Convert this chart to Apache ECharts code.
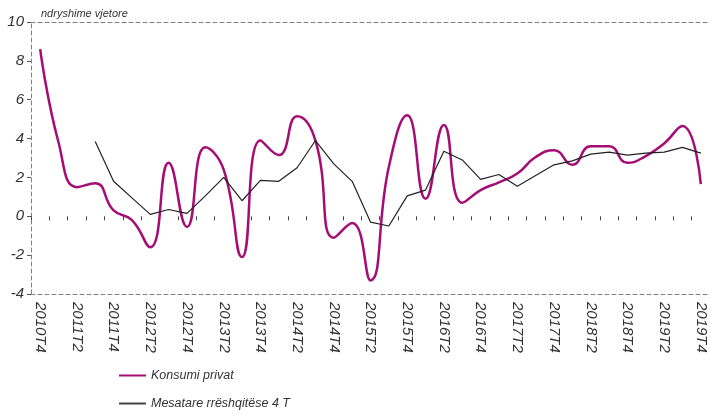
<!DOCTYPE html>
<html>
<head>
<meta charset="utf-8">
<script src="https://cdn.jsdelivr.net/npm/echarts@6/dist/echarts.min.js"></script>
<style>
  html, body { margin: 0; padding: 0; background: #fff; }
  #chart { width: 710px; height: 414px; }
</style>
</head>
<body>
<div id="chart"></div>
<script>
// tremujoret 2010T4 - 2019T4
var quarters = [
  '2010T4',
  '2011T1', '2011T2', '2011T3', '2011T4',
  '2012T1', '2012T2', '2012T3', '2012T4',
  '2013T1', '2013T2', '2013T3', '2013T4',
  '2014T1', '2014T2', '2014T3', '2014T4',
  '2015T1', '2015T2', '2015T3', '2015T4',
  '2016T1', '2016T2', '2016T3', '2016T4',
  '2017T1', '2017T2', '2017T3', '2017T4',
  '2018T1', '2018T2', '2018T3', '2018T4',
  '2019T1', '2019T2', '2019T3', '2019T4'
];

var konsumiPrivat = [
  8.6,
  3.8, 1.5, 1.7, 0.3,
  -0.2, -1.6, 2.75, -0.55,
  3.55, 2.4, -2.1, 3.9,
  3.15, 5.15, 3.9, -1.1,
  -0.35, -3.3, 2.55, 5.2,
  0.9, 4.7, 0.7, 1.35,
  1.75, 2.2, 3.05, 3.4,
  2.65, 3.6, 3.6, 2.75,
  3.1, 3.75, 4.65, 1.65
];

var mesatare4T = [
  null,
  null, null, 3.85, 1.8,
  0.95, 0.1, 0.35, 0.15,
  1.05, 2.0, 0.8, 1.85,
  1.8, 2.5, 3.9, 2.7,
  1.8, -0.3, -0.5, 1.05,
  1.35, 3.35, 2.9, 1.9,
  2.15, 1.55, 2.1, 2.65,
  2.85, 3.2, 3.3, 3.15,
  3.25, 3.3, 3.55, 3.25
];

var seriesNames = ['Konsumi privat', 'Mesatare rrëshqitëse 4 T'];

var fontFam = '"Liberation Sans Narrow", "Liberation Sans", sans-serif';
var dash = { color: '#808080', width: 1, type: [4, 3] };
var legendText = { fontFamily: fontFam, fontStyle: 'italic', fontSize: 12.5, color: '#333' };

var myChart = echarts.init(document.getElementById('chart'));
var option = {
  animation: false,
  title: {
    text: 'ndryshime vjetore',
    left: 36,
    top: 3,
    textStyle: { fontFamily: fontFam, fontStyle: 'italic', fontWeight: 'normal', fontSize: 11, color: '#333' }
  },
  legend: [{
    left: 114,
    top: 364,
    itemWidth: 27,
    itemHeight: 2,
    icon: 'rect',
    data: [seriesNames[0]],
    textStyle: legendText
  }, {
    left: 114,
    top: 392,
    itemWidth: 27,
    itemHeight: 2,
    icon: 'rect',
    data: [seriesNames[1]],
    textStyle: legendText
  }],
  grid: { left: 31, right: -1, top: 22, bottom: 120, containLabel: false },
  xAxis: [{
    // etiketat poshte
    type: 'category',
    data: quarters,
    boundaryGap: true,
    position: 'bottom',
    axisLine: { onZero: false, lineStyle: dash },
    axisTick: { show: false },
    axisLabel: {
      interval: 1,
      rotate: -90,
      margin: 8,
      fontFamily: fontFam,
      fontStyle: 'italic',
      fontSize: 15,
      color: '#333'
    },
    splitLine: { show: false }
  }, {
    // vija e zeros vetem me ticks
    type: 'category',
    data: quarters,
    boundaryGap: true,
    position: 'bottom',
    axisLine: { show: false, onZero: true },
    axisTick: { show: true, interval: 0, length: 4, lineStyle: { color: '#444', width: 1 } },
    axisLabel: { show: false },
    splitLine: { show: false }
  }, {
    // korniza lart
    type: 'category',
    data: quarters,
    boundaryGap: true,
    position: 'top',
    axisLine: { onZero: false, lineStyle: dash },
    axisTick: { show: false },
    axisLabel: { show: false },
    splitLine: { show: false }
  }],
  yAxis: {
    type: 'value',
    min: -4,
    max: 10,
    interval: 2,
    axisLine: { show: true, lineStyle: dash },
    axisTick: { show: true, length: 4, lineStyle: { color: '#555', width: 1 } },
    axisLabel: {
      margin: 7,
      fontFamily: fontFam,
      fontStyle: 'italic',
      fontSize: 15,
      color: '#333'
    },
    splitLine: { show: false }
  },
  series: [{
    name: seriesNames[0],
    type: 'line',
    data: konsumiPrivat,
    smooth: 0.5,
    symbol: 'none',
    color: '#a60d74',
    lineStyle: { color: '#a60d74', width: 2.5 },
    z: 3
  }, {
    name: seriesNames[1],
    type: 'line',
    data: mesatare4T,
    smooth: false,
    symbol: 'none',
    color: '#444',
    lineStyle: { color: '#222', width: 1.2 },
    z: 4
  }]
};
myChart.setOption(option);
</script>
</body>
</html>
